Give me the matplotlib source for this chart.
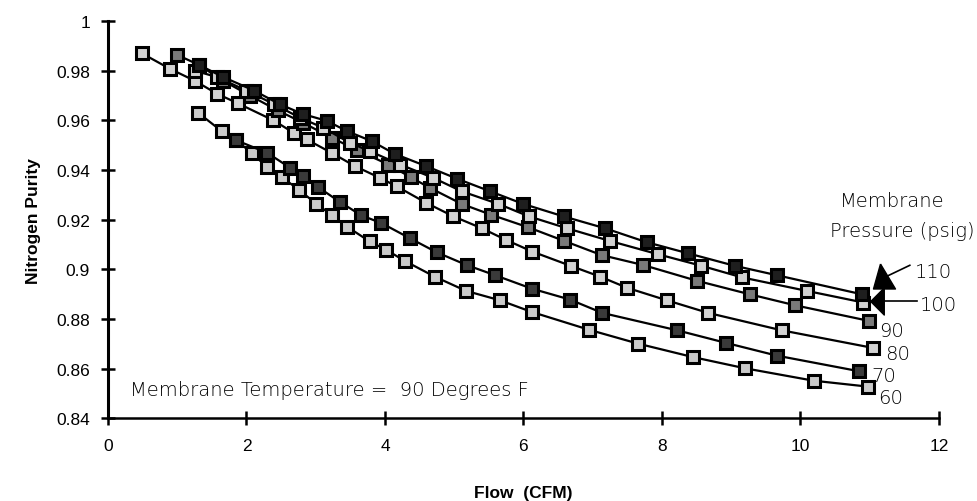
import numpy as np
import matplotlib
matplotlib.use("Agg")
import matplotlib.pyplot as plt

# flow (CFM) and nitrogen purity for each membrane pressure (psig)
flow_110 = [1.31, 1.66, 2.11, 2.48, 2.82, 3.16, 3.45, 3.81, 4.14, 4.60, 5.04, 5.52, 6.00, 6.58, 7.18, 7.78, 8.38, 9.05, 9.66, 10.89]
pur_110 = [0.9824, 0.9775, 0.9720, 0.9665, 0.9625, 0.9598, 0.9557, 0.9516, 0.9465, 0.9415, 0.9365, 0.9314, 0.9263, 0.9213, 0.9165, 0.9109, 0.9064, 0.9014, 0.8976, 0.8899]

flow_100 = [1.25, 1.57, 2.00, 2.40, 2.77, 3.11, 3.49, 3.78, 4.22, 4.70, 5.11, 5.64, 6.08, 6.63, 7.25, 7.95, 8.57, 9.16, 10.09, 10.91]
pur_100 = [0.9800, 0.9775, 0.9720, 0.9665, 0.9611, 0.9570, 0.9510, 0.9476, 0.9422, 0.9368, 0.9314, 0.9263, 0.9213, 0.9165, 0.9114, 0.9060, 0.9014, 0.8967, 0.8913, 0.8866]

flow_90 = [0.99, 1.31, 1.66, 2.05, 2.45, 2.82, 3.23, 3.60, 4.05, 4.37, 4.65, 5.11, 5.53, 6.07, 6.59, 7.13, 7.73, 8.50, 9.27, 9.92, 10.99]
pur_90 = [0.9865, 0.9824, 0.9760, 0.9700, 0.9640, 0.9590, 0.9530, 0.9480, 0.9422, 0.9371, 0.9328, 0.9263, 0.9220, 0.9169, 0.9114, 0.9057, 0.9017, 0.8954, 0.8899, 0.8855, 0.8792]

flow_80 = [0.49, 0.90, 1.25, 1.57, 1.88, 2.39, 2.68, 2.87, 3.23, 3.57, 3.93, 4.17, 4.60, 4.99, 5.40, 5.75, 6.13, 6.68, 7.11, 7.50, 8.07, 8.67, 9.73, 11.05]
pur_80 = [0.9870, 0.9807, 0.9760, 0.9708, 0.9668, 0.9600, 0.9550, 0.9523, 0.9469, 0.9415, 0.9368, 0.9334, 0.9267, 0.9213, 0.9165, 0.9118, 0.9071, 0.9014, 0.8970, 0.8925, 0.8875, 0.8824, 0.8754, 0.8683]

flow_70 = [1.85, 2.30, 2.63, 2.82, 3.04, 3.35, 3.66, 3.95, 4.36, 4.75, 5.18, 5.59, 6.12, 6.67, 7.14, 8.22, 8.93, 9.66, 10.85]
pur_70 = [0.9520, 0.9469, 0.9409, 0.9375, 0.9330, 0.9271, 0.9217, 0.9186, 0.9125, 0.9068, 0.9017, 0.8976, 0.8922, 0.8878, 0.8824, 0.8754, 0.8703, 0.8652, 0.8589]

flow_60 = [1.30, 1.64, 1.85, 2.075, 2.30, 2.51, 2.76, 3.01, 3.23, 3.45, 3.78, 4.02, 4.29, 4.72, 5.17, 5.66, 6.12, 6.95, 7.66, 8.45, 9.20, 10.19, 10.98]
pur_60 = [0.9631, 0.9557, 0.9520, 0.9469, 0.9411, 0.9371, 0.9320, 0.9263, 0.9219, 0.9172, 0.9112, 0.9078, 0.9033, 0.8970, 0.8913, 0.8875, 0.8828, 0.8756, 0.8700, 0.8646, 0.8601, 0.8551, 0.8527]

yticks = [0.84, 0.86, 0.88, 0.9, 0.92, 0.94, 0.96, 0.98, 1]
ytick_labels = ["0.84", "0.86", "0.88", "0.9", "0.92", "0.94", "0.96", "0.98", "1"]
xticks = [0, 2, 4, 6, 8, 10, 12]

pressures = ["110", "100", "90", "80", "70", "60"]
faces = ["#1e1e1e", "#d2d2d2", "#7a7a7a", "#d2d2d2", "#3a3a3a", "#cacaca"]
series = [(flow_110, pur_110), (flow_100, pur_100), (flow_90, pur_90),
          (flow_80, pur_80), (flow_70, pur_70), (flow_60, pur_60)]

fig = plt.figure(figsize=(9.77, 5.02), dpi=100)
ax = fig.add_axes([0.1105, 0.165, 0.8505, 0.791])

for (fx, py), face in list(zip(series, faces))[::-1]:
    ax.plot(fx, py, color="black", linewidth=1.6, marker="s", markersize=9,
            markerfacecolor=face, markeredgecolor="black", markeredgewidth=2.2)

ax.set_xlim(0, 12)
ax.set_ylim(0.84, 1)
ax.set_xticks(xticks)
ax.set_yticks(yticks)
ax.set_yticklabels(ytick_labels)
for s in ["top", "right"]:
    ax.spines[s].set_visible(False)
ax.spines["left"].set_linewidth(2.2)
ax.spines["bottom"].set_linewidth(1.8)
ax.tick_params(axis="both", direction="inout", length=10, width=1.8, labelsize=12.5)
ax.tick_params(axis="x", pad=9)
ax.tick_params(axis="y", pad=8)
for lab in ax.get_xticklabels() + ax.get_yticklabels():
    lab.set_family("Liberation Sans")

ax.set_xlabel("Flow  (CFM)", fontsize=12.5, fontweight="bold", family="Liberation Sans")
ax.set_ylabel("Nitrogen Purity", fontsize=12.5, fontweight="bold", family="Liberation Sans")
ax.xaxis.set_label_coords(0.4994, -0.186)
ax.xaxis.label.set_va("center")
ax.yaxis.set_label_coords(-0.09, 0.5)
ax.yaxis.label.set_va("center")

thin = dict(family="DejaVu Sans", fontweight="light", color="black")
ax.text(0.32, 0.8517, "Membrane Temperature =  90 Degrees F", fontsize=14, va="center", ha="left", **thin)
ax.text(11.33, 0.9279, "Membrane", fontsize=14, ha="center", va="center", clip_on=False, **thin)
ax.text(11.47, 0.9158, "Pressure (psig)", fontsize=14, ha="center", va="center", clip_on=False, **thin)

# pointer arrows for the two top curves
up_tri = [(-0.32, 1), (0.88, -1), (-0.88, -1), (-0.32, 1)]
left_tri = [(-0.5, 0), (0.5, 1), (0.5, -1), (-0.5, 0)]
ax.plot([11.58, 11.25], [0.9016, 0.8972], color="black", linewidth=1.2, clip_on=False)
ax.plot([11.21], [0.8973], marker=up_tri, markersize=18, color="black", clip_on=False)
ax.plot([11.15, 11.68], [0.8874, 0.8874], color="black", linewidth=1.2, clip_on=False)
ax.plot([11.10], [0.8874], marker=left_tri, markersize=19.5, color="black", clip_on=False)

lab_x = [11.65, 11.72, 11.13, 11.22, 11.02, 11.12]
lab_y = [0.8991, 0.8858, 0.8752, 0.8659, 0.8570, 0.8485]
for t, lx, ly in zip(pressures, lab_x, lab_y):
    ax.text(lx, ly, t, fontsize=14, ha="left", va="center", clip_on=False, **thin)

plt.savefig("out.png", dpi=100)
